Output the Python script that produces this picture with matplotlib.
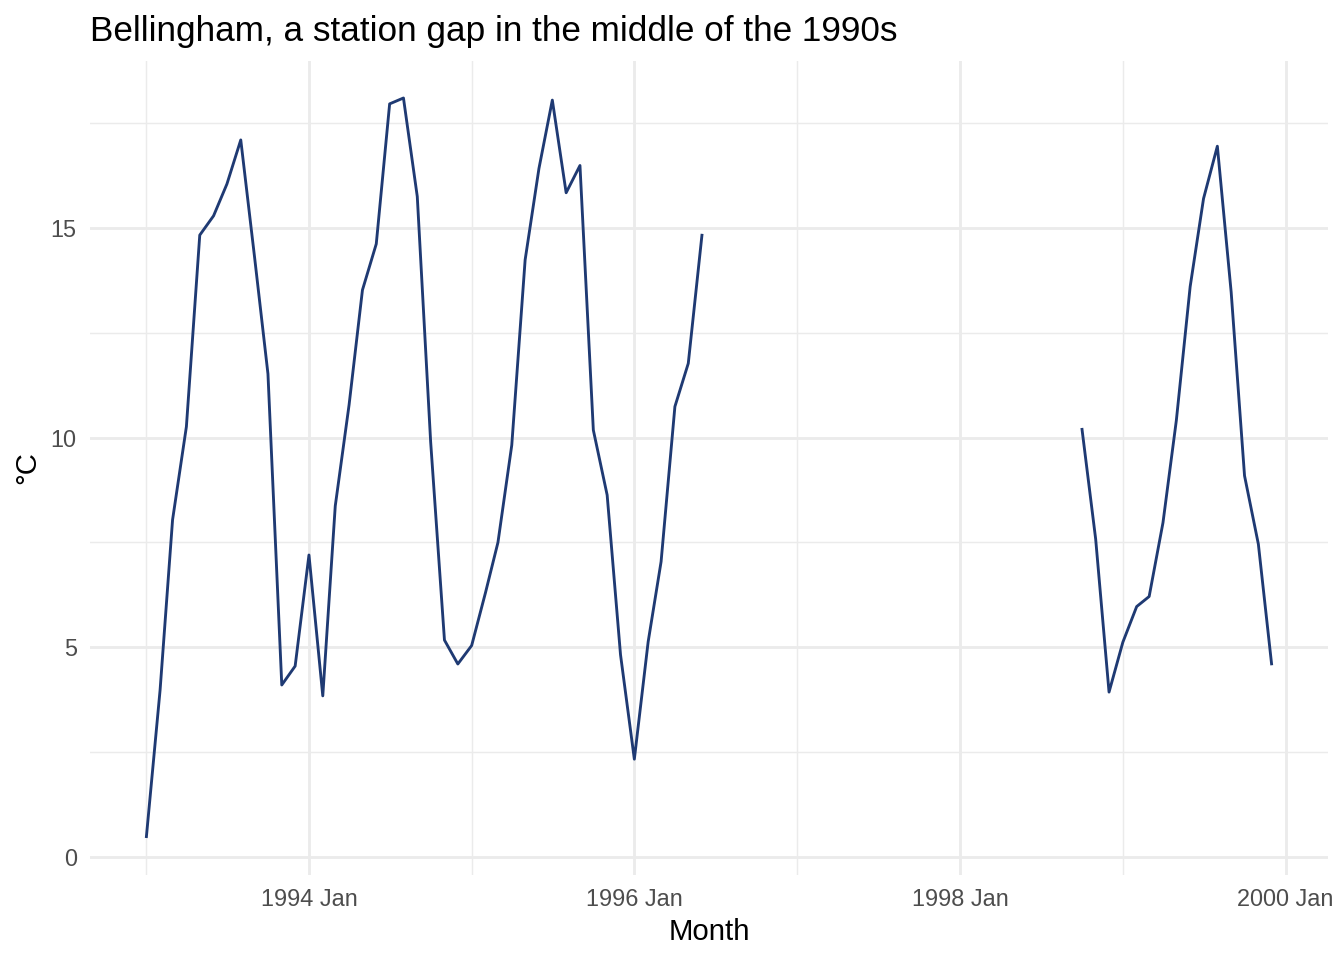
import numpy as np
import pandas as pd
import matplotlib
matplotlib.use("Agg")
import matplotlib.pyplot as plt
import matplotlib.dates as mdates

plt.rcParams['font.family'] = ['Liberation Sans', 'DejaVu Sans']

# monthly mean temperature, NaN where the station has no record
temp_1993 = [0.45, 3.98, 8.04, 10.26, 14.83, 15.29, 16.05, 17.1, 14.3, 11.52, 4.1, 4.55]
temp_1994 = [7.2, 3.84, 8.37, 10.78, 13.52, 14.62, 17.96, 18.1, 15.75, 9.9, 5.17, 4.6]
temp_1995 = [5.04, 6.3, 7.5, 9.82, 14.24, 16.42, 18.05, 15.84, 16.49, 10.18, 8.63, 4.82]
temp_1996 = [2.33, 5.13, 7.04, 10.74, 11.77, 14.86] + [np.nan] * 6
temp_1997 = [np.nan] * 12
temp_1998 = [np.nan] * 9 + [10.23, 7.58, 3.93]
temp_1999 = [5.12, 5.97, 6.21, 7.97, 10.41, 13.6, 15.7, 16.95, 13.47, 9.09, 7.46, 4.57]

months = pd.date_range("1993-01-01", "1999-12-01", freq="MS")
temps = np.array(temp_1993 + temp_1994 + temp_1995 + temp_1996
                 + temp_1997 + temp_1998 + temp_1999)

major_ticks = pd.to_datetime(["1994-01-01", "1996-01-01", "1998-01-01", "2000-01-01"])
minor_ticks = pd.to_datetime(["1993-01-01", "1995-01-01", "1997-01-01", "1999-01-01"])
major_labels = ["1994 Jan", "1996 Jan", "1998 Jan", "2000 Jan"]

fig = plt.figure(figsize=(7, 5), dpi=192)
ax = fig.add_axes([90 / 1344, 1 - 875 / 960, (1328 - 90) / 1344, (875 - 61) / 960])

ax.plot(months, temps, color="#1f3a73", lw=1.07, solid_capstyle="butt")

# ggplot style 5% expansion
xn = mdates.date2num(months)
xpad = 0.05 * (xn[-1] - xn[0])
ax.set_xlim(xn[0] - xpad, xn[-1] + xpad)
ymin, ymax = np.nanmin(temps), np.nanmax(temps)
ypad = 0.05 * (ymax - ymin)
ax.set_ylim(ymin - ypad, ymax + ypad)

ax.set_xticks(mdates.date2num(major_ticks))
ax.set_xticklabels(major_labels)
ax.set_xticks(mdates.date2num(minor_ticks), minor=True)
ax.set_yticks([0, 5, 10, 15])
ax.set_yticks([2.5, 7.5, 12.5, 17.5], minor=True)

ax.grid(which="major", color="#EBEBEB", lw=1.07)
ax.grid(which="minor", color="#EBEBEB", lw=0.53)
ax.set_axisbelow(True)
for s in ax.spines.values():
    s.set_visible(False)
ax.tick_params(which="both", length=0, labelsize=8.8, labelcolor="#4D4D4D")
ax.tick_params(axis="x", pad=5)
ax.tick_params(axis="y", pad=5)

ax.set_xlabel("Month", fontsize=11, color="black", labelpad=2.5)
ax.set_ylabel("°C", fontsize=11, color="black", labelpad=3.5)
fig.text(90 / 1344, 1 - 41 / 960, "Bellingham, a station gap in the middle of the 1990s",
         fontsize=13.2, ha="left", va="baseline")

fig.savefig("out.png", dpi=192)
